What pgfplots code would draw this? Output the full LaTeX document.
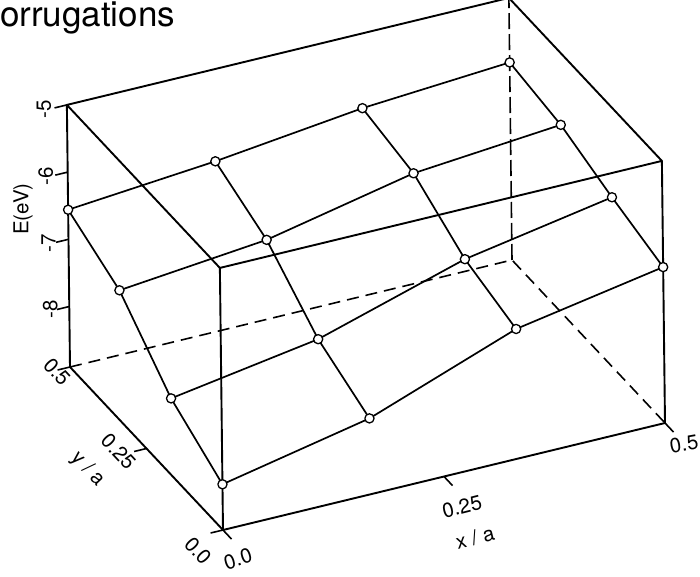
\documentclass[border=0pt]{standalone}
\usepackage{fontspec}
\setmainfont{TeX Gyre Heros}
\usepackage{pgfplots}
\pgfplotsset{compat=1.18}
\usetikzlibrary{calc}

\newcommand{\lblfont}{\fontsize{20.5}{22}\selectfont}

\begin{document}
\begin{tikzpicture}[line cap=round, line join=round]
\begin{axis}[
  x={(884pt,214pt)}, y={(-306pt,326pt)}, z={(-0.8pt,67.2pt)},
  xmin=0, xmax=0.5, ymin=0, ymax=0.5, zmin=-8.9, zmax=-5,
  hide axis, clip=false,
  edge/.style={black, solid, mark=none, line width=1.9pt},
  hidden/.style={black, mark=none, line width=1.6pt},
  tck/.style={black, solid, mark=none, line width=1.6pt},
  grid line/.style={black, solid, mark=none, line width=1.7pt},
  grid pts/.style={black, solid, line width=1.7pt, mark=*, mark size=4.6pt,
    mark options={fill=white, draw=black, solid, line width=1.3pt}},
]
\coordinate (O) at (axis cs:0,0,-8.9);

% ---- box: visible edges
\addplot3[edge] coordinates {
  (0,0.5,-5) (0,0.5,-8.9) (0,0,-8.9) (0.5,0,-8.9) (0.5,0,-5)
  (0.5,0.5,-5) (0,0.5,-5) (0,0,-5) (0.5,0,-5)};
\addplot3[edge] coordinates {(0,0,-8.9) (0,0,-5)};
% ---- box: hidden edges
\addplot3[hidden, dash pattern=on 12pt off 7pt] coordinates {
  (0,0.5,-8.9) (0.5,0.5,-8.9) (0.5,0,-8.9)};
\addplot3[hidden, dash pattern=on 16pt off 5pt] coordinates {
  (0.5,0.5,-8.9) (0.5,0.5,-5)};

% ---- ticks
\addplot3[tck] coordinates {(0,0.5,-5) (-0.014,0.5,-5)};
\addplot3[tck] coordinates {(0,0.5,-6) (-0.014,0.5,-6)};
\addplot3[tck] coordinates {(0,0.5,-7) (-0.014,0.5,-7)};
\addplot3[tck] coordinates {(0,0.5,-8) (-0.014,0.5,-8)};
\addplot3[tck] coordinates {(0,0,-8.9) (0,-0.028,-8.9)};
\addplot3[tck] coordinates {(0.25,0,-8.9) (0.25,-0.028,-8.9)};
\addplot3[tck] coordinates {(0.5,0,-8.9) (0.5,-0.028,-8.9)};
\addplot3[tck] coordinates {(0,0,-8.9) (-0.014,0,-8.9)};
\addplot3[tck] coordinates {(0,0.25,-8.9) (-0.014,0.25,-8.9)};
\addplot3[tck] coordinates {(0,0.5,-8.9) (-0.014,0.5,-8.9)};

% ---- tick labels and axis titles
\node[shift={(-23pt,-4pt)}, rotate=90, font=\lblfont, inner sep=0pt] at (axis cs:0,0.5,-5) {-5};
\node[shift={(-22pt,-4pt)}, rotate=90, font=\lblfont, inner sep=0pt] at (axis cs:0,0.5,-6) {-6};
\node[shift={(-20pt,-4pt)}, rotate=90, font=\lblfont, inner sep=0pt] at (axis cs:0,0.5,-7) {-7};
\node[shift={(-19pt,-3pt)}, rotate=90, font=\lblfont, inner sep=0pt] at (axis cs:0,0.5,-8) {-8};
\node[shift={(-45pt,0pt)}, rotate=90, font=\lblfont, inner sep=0pt] at (axis cs:0,0.5,-6.55) {E(eV)};

\node[shift={(15pt,-29pt)}, rotate=18, font=\lblfont, inner sep=0pt] at (axis cs:0,0,-8.9) {0.0};
\node[shift={(18pt,-30pt)}, rotate=14, font=\lblfont, inner sep=0pt] at (axis cs:0.25,0,-8.9) {0.25};
\node[shift={(19pt,-21pt)}, rotate=10, font=\lblfont, inner sep=0pt] at (axis cs:0.5,0,-8.9) {0.5};
\node[shift={(31pt,-61pt)}, rotate=14, font=\lblfont, inner sep=0pt] at (axis cs:0.25,0,-8.9) {x / a};

\node[shift={(-25pt,-21pt)}, rotate=-47, font=\lblfont, inner sep=0pt] at (axis cs:0,0,-8.9) {0.0};
\node[shift={(-28pt,-3pt)}, rotate=-47, font=\lblfont, inner sep=0pt] at (axis cs:0,0.25,-8.9) {0.25};
\node[shift={(-13pt,-5pt)}, rotate=-47, font=\lblfont, inner sep=0pt] at (axis cs:0,0.5,-8.9) {0.5};
\node[shift={(-59pt,-21pt)}, rotate=-47, font=\lblfont, inner sep=0pt] at (axis cs:0,0.25,-8.9) {y / a};

% ---- energy surface E(x,y): lines of constant x
\addplot3[grid line] coordinates {(0,0,-8.22) (0,0.1667,-7.75) (0,0.3333,-6.95) (0,0.5,-6.56)};
\addplot3[grid line] coordinates {(0.1667,0,-7.77) (0.1667,0.1667,-7.40) (0.1667,0.3333,-6.73) (0.1667,0.5,-6.37)};
\addplot3[grid line] coordinates {(0.3333,0,-6.97) (0.3333,0.1667,-6.74) (0.3333,0.3333,-6.27) (0.3333,0.5,-6.11)};
\addplot3[grid line] coordinates {(0.5,0,-6.58) (0.5,0.1667,-6.35) (0.5,0.3333,-6.08) (0.5,0.5,-5.96)};

% ---- lines of constant y, with the computed points
\addplot3[grid pts] coordinates {(0,0,-8.22) (0.1667,0,-7.77) (0.3333,0,-6.97) (0.5,0,-6.58)};
\addplot3[grid pts] coordinates {(0,0.1667,-7.75) (0.1667,0.1667,-7.40) (0.3333,0.1667,-6.74) (0.5,0.1667,-6.35)};
\addplot3[grid pts] coordinates {(0,0.3333,-6.95) (0.1667,0.3333,-6.73) (0.3333,0.3333,-6.27) (0.5,0.3333,-6.08)};
\addplot3[grid pts] coordinates {(0,0.5,-6.56) (0.1667,0.5,-6.37) (0.3333,0.5,-6.11) (0.5,0.5,-5.96)};
\end{axis}

\pgfresetboundingbox
\path[use as bounding box] ($(O)+(-223pt,-46pt)$) rectangle ($(O)+(477pt,530pt)$);
\node[anchor=base west, inner sep=0pt, font=\fontsize{35}{37}\selectfont]
  at ($(O)+(-223pt,503pt)$) {orrugations};
\end{tikzpicture}
\end{document}
